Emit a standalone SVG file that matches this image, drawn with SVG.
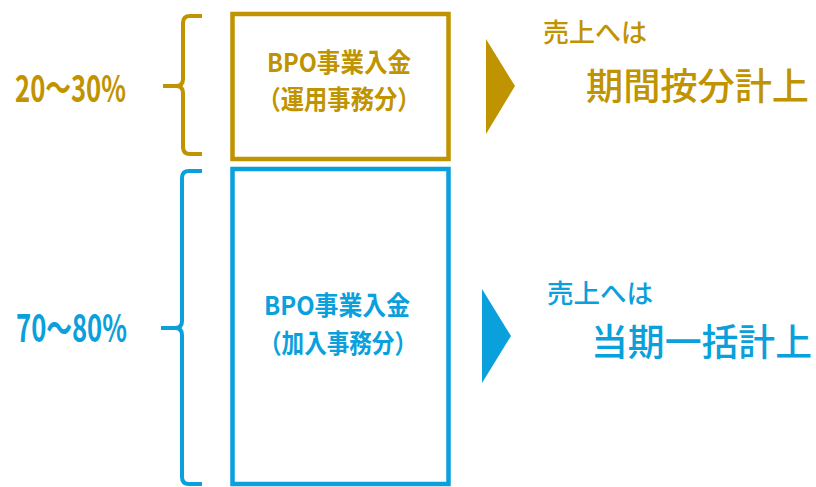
<svg xmlns="http://www.w3.org/2000/svg" width="816" height="487" viewBox="0 0 816 487">
<style>
.g{fill:#C09300}
.b{fill:#0AA0DC}
.t{font-family:"Noto Sans CJK JP","Noto Sans",sans-serif;font-weight:500}
.h{font-family:"Noto Sans CJK JP","Noto Sans",sans-serif;font-weight:700}
.box{fill:none;stroke-width:4.5}
.br{fill:none;stroke-width:4;stroke-linejoin:round}
</style>
<rect width="816" height="487" fill="#fff"/>
<g id="gold-label">
<text class="h g" x="15" y="102" font-size="37" textLength="111" lengthAdjust="spacingAndGlyphs">20～30%</text>
</g>
<g id="blue-label">
<text class="h b" x="16" y="342" font-size="38" textLength="111" lengthAdjust="spacingAndGlyphs">70～80%</text>
</g>
<g id="brackets">
<path class="br" stroke="#C09300" d="M202,16 H190 Q183,16 183,23 V79 Q183,86 176,86 H163 M176,86 Q183,86 183,93 V147 Q183,154 190,154 H202"/>
<path class="br" stroke="#0AA0DC" d="M202,171 H189 Q182,171 182,178 V321 Q182,328 175,328 H161 M175,328 Q182,328 182,335 V477 Q182,484 189,484 H202"/>
</g>
<g id="gold-box">
<rect class="box" stroke="#C09300" x="232.5" y="14" width="216" height="145"/>
<text class="h g" x="339" y="72" font-size="26" text-anchor="middle" textLength="144" lengthAdjust="spacingAndGlyphs">BPO事業入金</text>
<text class="h g" x="339" y="109" font-size="26" text-anchor="middle" textLength="163" lengthAdjust="spacingAndGlyphs">（運用事務分）</text>
</g>
<g id="blue-box">
<rect class="box" stroke="#0AA0DC" x="232.5" y="169" width="216" height="315"/>
<text class="h b" x="337" y="315" font-size="26" text-anchor="middle" textLength="146" lengthAdjust="spacingAndGlyphs">BPO事業入金</text>
<text class="h b" x="338" y="353" font-size="26" text-anchor="middle" textLength="158" lengthAdjust="spacingAndGlyphs">（加入事務分）</text>
</g>
<g id="connectors">
<polygon class="g" points="486,39 515,86 486,134"/>
<polygon class="b" points="482,289 511,336 482,383"/>
</g>
<g id="gold-result">
<text class="t g" x="543" y="42" font-size="26" textLength="104" lengthAdjust="spacingAndGlyphs">売上へは</text>
<text class="t g" x="586" y="100" font-size="37" textLength="223" lengthAdjust="spacingAndGlyphs">期間按分計上</text>
</g>
<g id="blue-result">
<text class="t b" x="547" y="303" font-size="26" textLength="106" lengthAdjust="spacingAndGlyphs">売上へは</text>
<text class="t b" x="591" y="356" font-size="37" textLength="221" lengthAdjust="spacingAndGlyphs">当期一括計上</text>
</g>
</svg>
